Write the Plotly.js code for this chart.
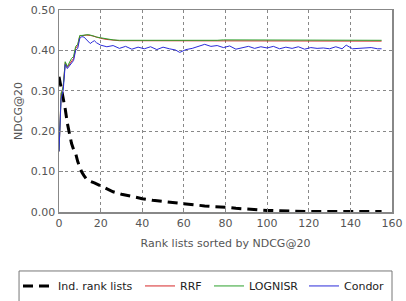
<!DOCTYPE html>
<html><head><meta charset="utf-8">
<script src="https://cdn.plot.ly/plotly-3.0.1.min.js"></script>
<style>body{margin:0;padding:0;background:#fff}#c{width:406px;height:301px}</style>
</head><body><div id="c"></div>
<script>
// Individual rank lists (sorted by NDCG@20)
const indX = [0,1,2,3,4,5,6,7,8,9,10,11,12,13,14,15,17,20,23,26,30,35,40,45,50,55,60,65,70,75,80,85,90,95,100,105,110,115,120,125,130,135,140,145,150,155];
const indY = [0.335,0.31,0.285,0.255,0.22,0.19,0.17,0.155,0.145,0.125,0.11,0.098,0.09,0.083,0.08,0.076,0.072,0.065,0.057,0.05,0.044,0.038,0.033,0.029,0.026,0.023,0.02,0.018,0.015,0.013,0.012,0.009,0.007,0.006,0.004,0.003,0.002,0.002,0.001,0.001,0.001,0.001,0.001,0.001,0.001,0.001];

// Fusion methods
const fusX = [0,1,2,3,4,5,6,7,8,9,10,11,12,13,14,15,16,17,18,19,20,23,26,29,32,35,38,41,44,47,50,53,56,58,61,64,67,70,73,76,79,82,85,88,91,94,97,100,103,106,109,112,115,118,121,124,127,130,133,136,138,141,144,147,150,153,155];
const rrf = [0.15,0.29,0.31,0.37,0.358,0.365,0.375,0.38,0.405,0.412,0.436,0.436,0.437,0.438,0.438,0.437,0.436,0.434,0.432,0.431,0.43,0.427,0.425,0.424,0.424,0.424,0.423,0.423,0.423,0.423,0.423,0.423,0.423,0.423,0.423,0.423,0.424,0.424,0.424,0.424,0.424,0.424,0.424,0.424,0.424,0.424,0.424,0.424,0.424,0.424,0.424,0.424,0.424,0.424,0.424,0.424,0.424,0.424,0.424,0.424,0.424,0.423,0.423,0.423,0.423,0.423,0.423];
const lognisr = [0.15,0.29,0.31,0.372,0.36,0.37,0.38,0.385,0.41,0.415,0.437,0.437,0.438,0.439,0.439,0.438,0.437,0.435,0.433,0.432,0.431,0.428,0.426,0.425,0.425,0.425,0.424,0.424,0.424,0.424,0.424,0.424,0.424,0.424,0.425,0.425,0.425,0.425,0.425,0.425,0.426,0.426,0.426,0.426,0.426,0.426,0.426,0.426,0.426,0.426,0.426,0.425,0.425,0.425,0.425,0.425,0.425,0.425,0.425,0.425,0.425,0.425,0.425,0.425,0.425,0.425,0.425];
const condor = [0.15,0.28,0.3,0.365,0.355,0.362,0.37,0.375,0.4,0.405,0.43,0.434,0.433,0.427,0.421,0.417,0.421,0.424,0.419,0.416,0.413,0.409,0.412,0.405,0.41,0.403,0.408,0.404,0.409,0.402,0.408,0.404,0.401,0.395,0.402,0.405,0.41,0.415,0.41,0.412,0.407,0.411,0.403,0.407,0.41,0.405,0.409,0.406,0.41,0.404,0.408,0.405,0.409,0.403,0.407,0.405,0.406,0.404,0.409,0.404,0.413,0.404,0.405,0.405,0.407,0.404,0.404];

const traces = [
  {x: indX, y: indY, name: 'Ind. rank lists', mode: 'lines', line: {color: '#000', width: 3, dash: '10px,6px'}, legend: 'legend'},
  {x: fusX, y: rrf, name: 'RRF', mode: 'lines', line: {color: '#d62728', width: 1}, legend: 'legend2'},
  {x: fusX, y: lognisr, name: 'LOGNISR', mode: 'lines', line: {color: '#2ca02c', width: 1}, legend: 'legend3'},
  {x: fusX, y: condor, name: 'Condor', mode: 'lines', line: {color: '#2b2bd9', width: 1}, legend: 'legend4'}
];

const axisCommon = {
  showline: true, mirror: true, linecolor: '#888', linewidth: 1.5,
  showgrid: true, gridcolor: '#888', griddash: 'dot', gridwidth: 1,
  ticks: 'inside', ticklen: 4, tickcolor: '#888',
  zeroline: false,
  tickfont: {family: 'DejaVu Sans', size: 11, color: '#555'}
};

function leg(xc) {
  return {orientation: 'h', xref: 'container', yref: 'container', x: xc, xanchor: 'left',
    y: 0.05, yanchor: 'middle', borderwidth: 0, bgcolor: 'rgba(0,0,0,0)',
    font: {family: 'DejaVu Sans', size: 11, color: '#222'}};
}

const layout = {
  width: 406, height: 301,
  margin: {l: 59, r: 14, t: 10, b: 89},
  paper_bgcolor: '#fff', plot_bgcolor: '#fff',
  font: {family: 'DejaVu Sans', color: '#555'},
  xaxis: Object.assign({}, axisCommon, {range: [0, 160], dtick: 20, tick0: 0,
    title: {text: 'Rank lists sorted by NDCG@20', font: {size: 11, color: '#555'}, standoff: 10}}),
  yaxis: Object.assign({}, axisCommon, {range: [0, 0.5], dtick: 0.1, tickformat: '.2f',
    title: {text: 'NDCG@20', font: {size: 11, color: '#555'}, standoff: 6}}),
  showlegend: true,
  legend: leg(18 / 406),
  legend2: leg(140 / 406),
  legend3: leg(209 / 406),
  legend4: leg(304 / 406),
  shapes: [{type: 'rect', xref: 'paper', yref: 'paper', x0: -0.12, x1: 1.0, y0: -0.292, y1: -0.5,
    line: {color: '#777', width: 1}, fillcolor: 'rgba(0,0,0,0)', layer: 'below'}]
};

Plotly.newPlot('c', traces, layout, {displayModeBar: false, staticPlot: true});
</script></body></html>
